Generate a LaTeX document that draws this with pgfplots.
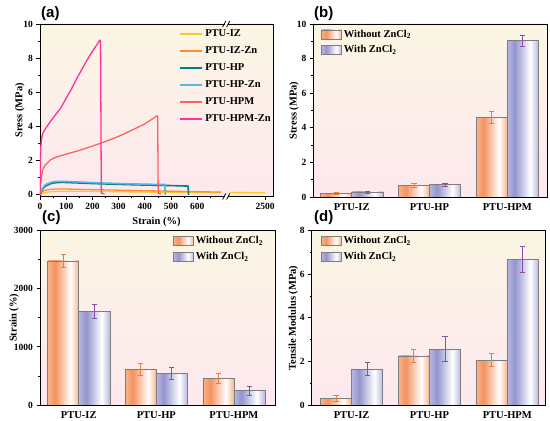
\documentclass[border=0pt]{standalone}
\usepackage{fontspec}
\setmainfont{Liberation Serif}
\newfontfamily\panelfont{Liberation Sans}
\usepackage{pgfplots}
\pgfplotsset{compat=1.18}

\definecolor{bgtop}{RGB}{251,246,228}
\definecolor{bgbot}{RGB}{253,232,238}
\definecolor{o1}{RGB}{248,180,140}
\definecolor{o2}{RGB}{244,146,96}
\definecolor{p1}{RGB}{184,184,224}
\definecolor{p2}{RGB}{148,148,206}
\definecolor{oerr}{RGB}{222,130,60}
\definecolor{perr}{RGB}{140,80,160}
\definecolor{bordergray}{RGB}{125,125,125}
\definecolor{cIZ}{RGB}{255,198,40}
\definecolor{cIZZn}{RGB}{255,142,40}
\definecolor{cHP}{RGB}{0,128,128}
\definecolor{cHPZn}{RGB}{85,182,232}
\definecolor{cHPM}{RGB}{255,96,96}
\definecolor{cHPMZn}{RGB}{255,50,150}

\pgfdeclarehorizontalshading{obar}{100bp}{color(0bp)=(o1); color(25bp)=(o1); color(37bp)=(o2); color(62bp)=(white); color(75bp)=(o1); color(100bp)=(o1)}
\pgfdeclarehorizontalshading{pbar}{100bp}{color(0bp)=(p1); color(25bp)=(p1); color(37bp)=(p2); color(62bp)=(white); color(75bp)=(p1); color(100bp)=(p1)}

\pgfplotsset{
  base/.style={
    scale only axis, anchor=south west,
    axis line style={line width=0.9pt},
    tick style={line width=0.8pt, black},
    major tick length=3.5pt, minor tick length=2pt,
    tick align=outside, xtick pos=bottom, ytick pos=left,
    ticklabel style={font=\fontsize{9.5}{10}\selectfont\bfseries},
    /pgf/number format/assume math mode=true,
    /pgf/number format/1000 sep={},
    label style={font=\fontsize{10.5}{11}\selectfont\bfseries},
    axis background/.style={top color=bgtop, bottom color=bgbot},
  },
  barax/.style={
    base,
    xtick={0,1,2}, xticklabels={PTU-IZ,PTU-HP,PTU-HPM},
    x tick style={draw=none},
    xticklabel style={font=\fontsize{10.5}{11}\selectfont\bfseries},
    legend cell align=left,
    legend image code/.code={\draw[##1] (0pt,-4.5pt) rectangle (20pt,4.5pt);},
    legend style={draw=none, fill=none, font=\fontsize{10.5}{11}\selectfont\bfseries, row sep=3pt},
  },
  wo/.style={ybar, bar width=0.4, bar shift=0pt, draw=bordergray, line width=0.6pt, shading=obar,
    error bars/.cd, y dir=both, y explicit,
    error bar style={color=oerr, line width=0.8pt},
    error mark options={rotate=90, mark size=2.6pt, color=oerr, line width=0.8pt}},
  wi/.style={ybar, bar width=0.4, bar shift=0pt, draw=bordergray, line width=0.6pt, shading=pbar,
    error bars/.cd, y dir=both, y explicit,
    error bar style={color=perr, line width=0.8pt},
    error mark options={rotate=90, mark size=2.6pt, color=perr, line width=0.8pt}},
}

\begin{document}
\begin{tikzpicture}
% ---------------- (a) ----------------
\begin{axis}[base, at={(40pt,224.5pt)}, width=233pt, height=172.5pt,
  x coord trafo/.code={\pgfmathparse{ifthenelse(#1<1000,#1,717+(#1-2250)*0.568)}},
  xmin=0, xmax=2553, ymin=-0.1, ymax=10,
  xtick={0,100,200,300,400,500,600,2500},
  xticklabels={0,100,200,300,400,500,600,2500},
  minor xtick={50,150,250,350,450,550,650},
  ytick={0,2,4,6,8,10}, minor ytick={1,3,5,7,9},
  xlabel={Strain (\%)}, ylabel={Sress (MPa)},
  xlabel style={yshift=0pt},
  ylabel style={at={(axis description cs:-0.086,0.5)}, anchor=center},
  legend cell align=left,
  legend image code/.code={\draw[#1,line width=1.8pt] (0pt,0pt) -- (22pt,0pt);},
  legend style={at={(0.585,0.99)}, anchor=north west, draw=none, fill=none,
    font=\fontsize{10.5}{11}\selectfont\bfseries, row sep=4.6pt},
]
\addplot[cIZ, line width=1.3pt] coordinates {(0,0) (5,0.05) (10,0.09) (20,0.13) (40,0.18) (60,0.2) (80,0.21) (120,0.21) (200,0.2) (300,0.18) (400,0.16) (500,0.15) (600,0.14) (690,0.13)};
\addlegendentry{PTU-IZ}
\addplot[cIZZn, line width=1.3pt] coordinates {(0,0) (5,0.12) (10,0.2) (20,0.27) (40,0.32) (60,0.34) (80,0.34) (120,0.33) (200,0.3) (300,0.27) (400,0.24) (500,0.21) (600,0.18) (690,0.16)};
\addlegendentry{PTU-IZ-Zn}
\addplot[cHP, line width=1.6pt] coordinates {(0,0) (5,0.2) (10,0.35) (20,0.5) (40,0.65) (60,0.71) (80,0.73) (100,0.72) (150,0.69) (200,0.66) (300,0.61) (400,0.57) (500,0.54) (565,0.51) (567,0.0)};
\addlegendentry{PTU-HP}
\addplot[cHPZn, line width=1.6pt] coordinates {(0,0) (5,0.25) (10,0.4) (20,0.58) (40,0.72) (60,0.78) (80,0.79) (100,0.78) (150,0.75) (200,0.71) (300,0.66) (400,0.62) (476,0.6) (478,0.0)};
\addlegendentry{PTU-HP-Zn}
\addplot[cHPM, line width=1.3pt] coordinates {(0,0) (2,0.6) (5,1.0) (10,1.45) (20,1.75) (40,2.05) (60,2.2) (100,2.38) (150,2.6) (200,2.85) (250,3.12) (300,3.42) (350,3.78) (400,4.15) (446,4.62) (449,4.6) (451,0.08) (462,0.05)};
\addlegendentry{PTU-HPM}
\addplot[cHPMZn, line width=1.3pt] coordinates {(0,0) (1,1.5) (3,2.8) (6,3.3) (12,3.65) (20,3.85) (40,4.3) (60,4.7) (80,5.1) (100,5.65) (120,6.2) (140,6.8) (160,7.35) (180,7.9) (200,8.4) (220,8.85) (228,9.05) (231,9.0) (234,0.1) (245,0.06)};
\addlegendentry{PTU-HPM-Zn}
\addplot[cIZ, line width=1.3pt, forget plot] coordinates {(2265,0.13) (2350,0.13) (2450,0.12) (2500,0.12)};
\end{axis}
% axis break marks (decoration on the frame of panel a)
\fill[white] (224.6pt,396pt) rectangle (227.8pt,398pt);
\fill[white] (224.6pt,223.5pt) rectangle (227.8pt,225.5pt);
\draw[line width=0.8pt] (222.6pt,394pt) -- (225.8pt,400pt);
\draw[line width=0.8pt] (226.6pt,394pt) -- (229.8pt,400pt);
\draw[line width=0.8pt] (222.6pt,221.5pt) -- (225.8pt,227.5pt);
\draw[line width=0.8pt] (226.6pt,221.5pt) -- (229.8pt,227.5pt);

% ---------------- (b) ----------------
\begin{axis}[barax, at={(313.3pt,224pt)}, width=234.4pt, height=173pt,
  xmin=-0.494, xmax=2.52, ymin=0, ymax=10,
  ytick={0,2,4,6,8,10}, minor ytick={1,3,5,7,9},
  ylabel={Stress (MPa)},
  ylabel style={at={(axis description cs:-0.082,0.5)}, anchor=center},
  legend style={at={(0.02,0.99)}, anchor=north west},
]
\addplot[wo] coordinates {(-0.2,0.21) +- (0,0.08)};
\addlegendentry{Without ZnCl\textsubscript{2}}
\addplot[wi] coordinates {(0.2,0.29) +- (0,0.06)};
\addlegendentry{With ZnCl\textsubscript{2}}
\addplot[forget plot, wo] coordinates {(0.8,0.67) +- (0,0.1)};
\addplot[forget plot, wi] coordinates {(1.2,0.71) +- (0,0.09)};
\addplot[forget plot, wo] coordinates {(1.8,4.6) +- (0,0.32)};
\addplot[forget plot, wi] coordinates {(2.2,9.03) +- (0,0.32)};
\end{axis}

% ---------------- (c) ----------------
\begin{axis}[barax, at={(40pt,16pt)}, width=235pt, height=174.3pt,
  xmin=-0.5, xmax=2.53, ymin=0, ymax=3000,
  ytick={0,1000,2000,3000}, minor ytick={500,1500,2500},
  ylabel={Strain (\%)},
  ylabel style={at={(axis description cs:-0.11,0.5)}, anchor=center},
  legend style={at={(0.553,0.99)}, anchor=north west},
]
\addplot[wo] coordinates {(-0.2,2480) +- (0,120)};
\addlegendentry{Without ZnCl\textsubscript{2}}
\addplot[wi] coordinates {(0.2,1612) +- (0,120)};
\addlegendentry{With ZnCl\textsubscript{2}}
\addplot[forget plot, wo] coordinates {(0.8,608) +- (0,100)};
\addplot[forget plot, wi] coordinates {(1.2,540) +- (0,100)};
\addplot[forget plot, wo] coordinates {(1.8,460) +- (0,85)};
\addplot[forget plot, wi] coordinates {(2.2,245) +- (0,78)};
\end{axis}

% ---------------- (d) ----------------
\begin{axis}[barax, at={(311.7pt,16pt)}, width=233.3pt, height=174.3pt,
  xmin=-0.513, xmax=2.485, ymin=0, ymax=8,
  ytick={0,2,4,6,8}, minor ytick={1,3,5,7},
  ylabel={Tensile Modulus (MPa)},
  ylabel style={at={(axis description cs:-0.079,0.5)}, anchor=center},
  legend style={at={(0.026,0.99)}, anchor=north west},
]
\addplot[wo] coordinates {(-0.2,0.31) +- (0,0.13)};
\addlegendentry{Without ZnCl\textsubscript{2}}
\addplot[wi] coordinates {(0.2,1.65) +- (0,0.29)};
\addlegendentry{With ZnCl\textsubscript{2}}
\addplot[forget plot, wo] coordinates {(0.8,2.25) +- (0,0.3)};
\addplot[forget plot, wi] coordinates {(1.2,2.56) +- (0,0.57)};
\addplot[forget plot, wo] coordinates {(1.8,2.05) +- (0,0.3)};
\addplot[forget plot, wi] coordinates {(2.2,6.68) +- (0,0.6)};
\end{axis}

\begin{scope}[every node/.style={anchor=north west, inner sep=0pt, font=\panelfont\bfseries\fontsize{15}{16}\selectfont}]
\node at (41pt,415pt) {(a)};
\node at (314pt,415pt) {(b)};
\node at (42pt,211pt) {(c)};
\node at (314pt,211pt) {(d)};
\end{scope}

\pgfresetboundingbox
\path[use as bounding box] (0pt,0pt) rectangle (550pt,421pt);
\end{tikzpicture}
\end{document}
